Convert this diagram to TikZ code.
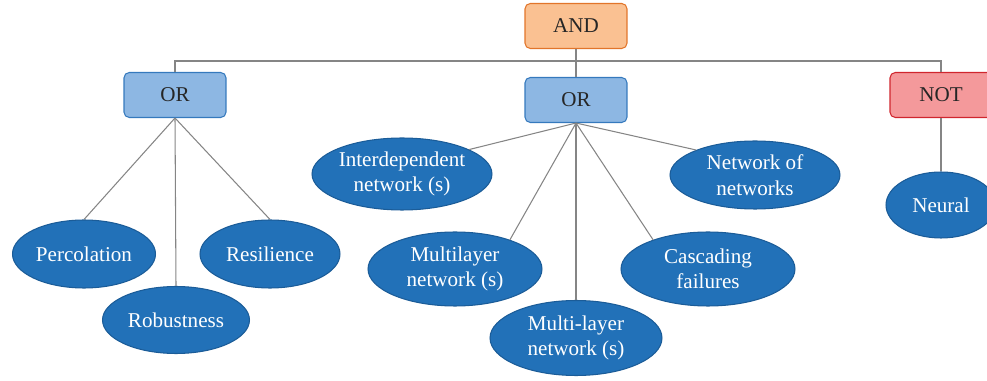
\documentclass[tikz,border=0pt]{standalone}
\usepackage{fontspec}
\setmainfont{Liberation Serif}
\usepackage{tikz}
\usetikzlibrary{shapes,positioning}

\definecolor{andfill}{HTML}{FAC192}
\definecolor{anddraw}{HTML}{E2752A}
\definecolor{orfill}{HTML}{8DB7E3}
\definecolor{ordraw}{HTML}{3579BD}
\definecolor{notfill}{HTML}{F4999B}
\definecolor{notdraw}{HTML}{D0262E}
\definecolor{leaffill}{HTML}{2271B8}
\definecolor{leafdraw}{HTML}{1B5C98}
\definecolor{linkgray}{HTML}{858585}

\begin{document}
\begin{tikzpicture}[x=0.02cm, y=-0.02cm, font=\fontsize{12}{14.5}\selectfont,
    gate/.style={draw, rectangle, rounded corners=3pt, line width=0.6pt,
        minimum width=2.04cm, minimum height=0.9cm, text=black!85},
    leaf/.style={draw=leafdraw, ellipse, fill=leaffill, line width=0.6pt,
        text=white, align=center, inner sep=0pt},
    link/.style={draw=linkgray, line width=0.6pt}]
            \useasboundingbox (0,0) rectangle (987,381);

            % Logic gates
            \node[gate, fill=andfill, draw=anddraw] (and) at (576,26) {AND};
            \node[gate, fill=orfill, draw=ordraw] (orleft) at (175,95) {OR};
            \node[gate, fill=orfill, draw=ordraw] (ormid) at (576,100) {OR};
            \node[gate, fill=notfill, draw=notdraw] (notgate) at (941,95) {NOT};

            % Keywords under the left OR
            \node[leaf, minimum width=2.86cm, minimum height=1.36cm] (percolation) at (84,254) {Percolation};
            \node[leaf, minimum width=2.8cm, minimum height=1.36cm] (resilience) at (270,254) {Resilience};
            \node[leaf, minimum width=2.94cm, minimum height=1.34cm] (robustness) at (176,320) {Robustness};

            % Keywords under the middle OR
            \node[leaf, minimum width=3.6cm, minimum height=1.44cm] (interdep) at (402,174) {Interdependent\\network (s)};
            \node[leaf, minimum width=3.4cm, minimum height=1.36cm] (netofnets) at (755,175) {Network of\\networks};
            \node[leaf, minimum width=3.48cm, minimum height=1.48cm] (multilayer) at (455,269) {Multilayer\\network (s)};
            \node[leaf, minimum width=3.48cm, minimum height=1.48cm] (cascading) at (708,269) {Cascading\\failures};
            \node[leaf, minimum width=3.44cm, minimum height=1.5cm] (multidash) at (576,338) {Multi-layer\\network (s)};

            % Keyword under NOT
            \node[leaf, minimum width=2.2cm, minimum height=1.32cm] (neural) at (941,205) {Neural};

            % Tree from AND to the gates
            \coordinate (bus) at (576,61);
            \draw[link] (and.south) -- (ormid.north);
            \draw[link] (orleft.north) |- (bus) -| (notgate.north);

            % Gates to keywords
            \draw[link] (orleft.south) -- (percolation.north);
            \draw[link] (orleft.south) -- (robustness.north);
            \draw[link] (orleft.south) -- (resilience.north);
            \draw[link] (ormid.south) -- (interdep.20);
            \draw[link] (ormid.south) -- (netofnets.157);
            \draw[link] (ormid.south) -- (multilayer.28);
            \draw[link] (ormid.south) -- (cascading.152);
            \draw[link] (ormid.south) -- (multidash.north);
            \draw[link] (notgate.south) -- (neural.north);
        \end{tikzpicture}
\end{document}
